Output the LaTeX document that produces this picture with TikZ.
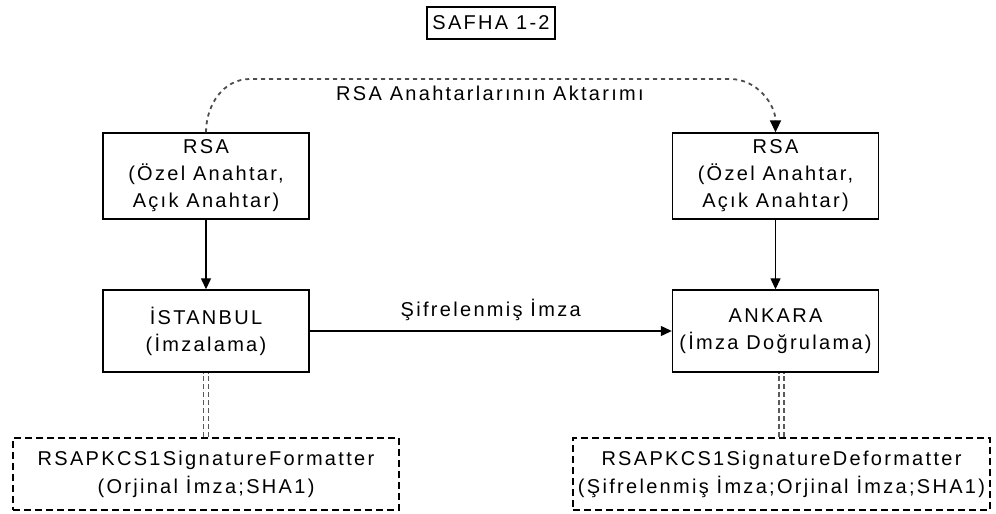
\documentclass[tikz,border=0pt]{standalone}
\usepackage{fontspec}
\setmainfont{Liberation Sans}[LetterSpace=11.5]
\usetikzlibrary{arrows.meta}
\begin{document}
\fontsize{20}{27}\selectfont
\begin{tikzpicture}[x=1pt,y=-1pt,
  box/.style={draw=black,line width=1.4pt,minimum width=206pt,minimum height=84pt,
    align=center,inner sep=0pt,font=\fontsize{20}{27}\selectfont},
  dbox/.style={draw=black,line width=1.3pt,dash pattern=on 7pt off 4pt,
    minimum height=72pt,align=center,inner sep=0pt,font=\fontsize{20}{28}\selectfont},
  flow/.style={line width=1.3pt,-{Triangle[length=11pt,width=10pt]}},
  transfer/.style={draw=black!70,line width=1.8pt,dash pattern=on 4pt off 4pt,
    -{Triangle[length=12pt,width=11pt,color=black]}},
  link/.style={draw=black!65,line width=1.5pt,dash pattern=on 5pt off 3pt,double distance=3.5pt}]
\useasboundingbox (0,0) rectangle (996,514);

% title
\node[draw=black,line width=1.2pt,minimum width=128pt,minimum height=32pt,inner sep=0pt,
  font=\fontsize{20}{24}\selectfont] (title) at (491,23) {SAFHA 1-2};

% key holders
\node[box,minimum height=86pt] (rsaL) at (206,176) {RSA\\(Özel Anahtar,\\Açık Anahtar)};
\node[box,minimum height=86pt] (rsaR) at (775.5,176) {RSA\\(Özel Anahtar,\\Açık Anahtar)};

% signing parties
\node[box,minimum height=82pt] (ist) at (206,331) {İSTANBUL\\(İmzalama)};
\node[box,minimum height=82pt] (ank) at (775.5,331) {ANKARA\\(İmza Doğrulama)};

% .NET classes
\node[dbox,minimum width=386pt] (fmt) at (206,474)
  {RSAPKCS1SignatureFormatter\\(Orjinal İmza;SHA1)};
\node[dbox,minimum width=417pt] (dfmt) at (781.5,474)
  {RSAPKCS1SignatureDeformatter\\(Şifrelenmiş İmza;Orjinal İmza;SHA1)};

% key transfer
\coordinate (c1) at (250,79);
\coordinate (c2) at (730,79);
\draw[transfer] (rsaL.north) to[out=90,in=180] (c1) -- (c2) to[out=0,in=90] (rsaR.north);
\node (lblKey) at (490,93) {RSA Anahtarlarının Aktarımı};

% solid flows
\draw[flow] (rsaL) -- (ist);
\draw[flow] (rsaR) -- (ank);
\draw[flow] (ist) -- node[above=3pt] (lblSig) {Şifrelenmiş İmza} (ank);

% class links
\draw[link] (fmt.north) -- (ist.south);
\draw[link] (dfmt.north) -- (dfmt.north |- ank.south);
\end{tikzpicture}
\end{document}
